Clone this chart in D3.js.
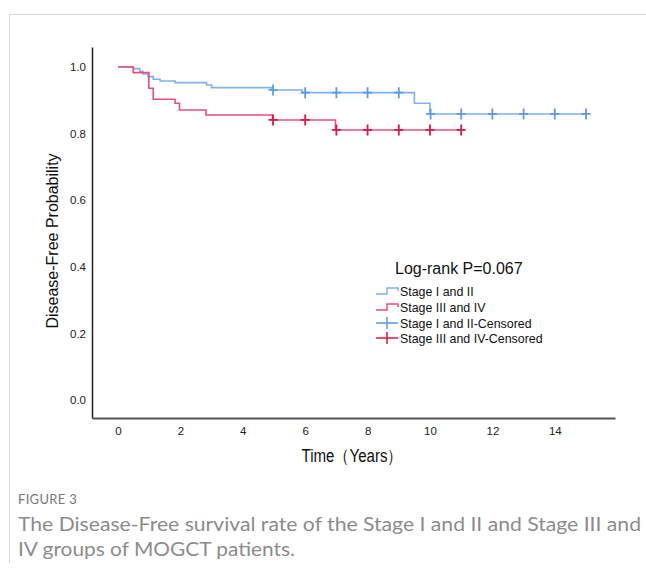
<!DOCTYPE html>
<html><head><meta charset="utf-8">
<script src="https://cdn.jsdelivr.net/npm/d3@7"></script>
<style>body{margin:0;background:#fff}svg{display:block}</style>
</head><body>
<script>
// Kaplan-Meier step data (time in years, survival probability)
const blueTimes = [0, 0.49, 0.70, 0.80, 0.96, 1.13, 1.35, 1.83, 2.84, 3.0, 4.93, 5.9, 9.5, 10.0, 15.0];
const blueProbs = [1.0, 0.995, 0.987, 0.979, 0.971, 0.963, 0.958, 0.953, 0.946, 0.938, 0.931, 0.923, 0.891, 0.859, 0.859];
const blueCensorTimes = [4.97, 6, 7, 8, 9, 10.02, 11, 12, 13, 14, 15];
const blueCensorProbs = [0.931, 0.923, 0.923, 0.923, 0.923, 0.859, 0.859, 0.859, 0.859, 0.859, 0.859];

const redTimes = [0, 0.49, 0.99, 1.13, 1.83, 1.97, 2.82, 4.95, 6.97, 11.0];
const redProbs = [1.0, 0.983, 0.936, 0.903, 0.891, 0.871, 0.856, 0.841, 0.811, 0.811];
const redCensorTimes = [4.97, 6, 7, 8, 9, 10, 11];
const redCensorProbs = [0.841, 0.841, 0.811, 0.811, 0.811, 0.811, 0.811];

const xTicks = [0, 2, 4, 6, 8, 10, 12, 14];
const yTicks = [0.0, 0.2, 0.4, 0.6, 0.8, 1.0];
const legendLabels = ["Stage I and II", "Stage III and IV", "Stage I and II-Censored", "Stage III and IV-Censored"];

const W = 646, H = 569;
const svg = d3.select("body").append("svg").attr("width", W).attr("height", H);

// frame
svg.append("path").attr("d", "M9.5,563 V14.5 H646").attr("fill", "none").attr("stroke", "#d9d9d9").attr("stroke-width", 1);

const x = d3.scaleLinear().domain([-0.833, 15.93]).range([92, 615]);
const y = d3.scaleLinear().domain([-0.054, 1.06]).range([418, 47]);

const blueLine = "#7fb2ee", blueMark = "#5c9be3";
const redLine = "#e6507a", redMark = "#d81744";
const font = "'Liberation Sans', Arial, sans-serif";

// axes
const yAxis = svg.append("g").attr("transform", "translate(92,0)")
  .call(d3.axisLeft(y).tickValues(yTicks).tickFormat(d3.format(".1f")).tickSize(0).tickPadding(6));
yAxis.attr("font-family", font).attr("font-size", 11.5);
yAxis.select(".domain").attr("stroke", "#222").attr("stroke-width", 1.5);
yAxis.selectAll("text").attr("fill", "#222");

const xAxis = svg.append("g").attr("transform", "translate(0,418)")
  .call(d3.axisBottom(x).tickValues(xTicks).tickFormat(d3.format("d")).tickSize(0).tickPadding(9));
xAxis.attr("font-family", font).attr("font-size", 11.5);
xAxis.select(".domain").attr("stroke", "#555").attr("stroke-width", 2);
xAxis.selectAll("text").attr("fill", "#222");

// axis titles
svg.append("text").attr("transform", "translate(58,241) rotate(-90)").attr("text-anchor", "middle")
  .attr("font-family", font).attr("font-size", 16).attr("fill", "#111").text("Disease-Free Probability");
svg.append("text").attr("x", 352).attr("y", 462).attr("text-anchor", "middle")
  .attr("font-family", font).attr("font-size", 18).attr("fill", "#111")
  .attr("textLength", 101).attr("lengthAdjust", "spacingAndGlyphs").text("Time（Years）");

// curves
const line = d3.line().x(d => x(d[0])).y(d => y(d[1])).curve(d3.curveStepAfter);
const blueData = blueTimes.map((t, i) => [t, blueProbs[i]]);
const redData = redTimes.map((t, i) => [t, redProbs[i]]);
svg.append("path").attr("d", line(blueData)).attr("fill", "none").attr("stroke", blueLine).attr("stroke-width", 1.6);
svg.append("path").attr("d", line(redData)).attr("fill", "none").attr("stroke", redLine).attr("stroke-width", 1.6);

function crosses(ts, ps, color) {
  ts.forEach((t, i) => {
    const cx = x(t), cy = y(ps[i]);
    svg.append("path").attr("d", `M${cx-4.5},${cy} H${cx+4.5} M${cx},${cy-5.5} V${cy+5.5}`)
      .attr("stroke", color).attr("stroke-width", 1.8).attr("fill", "none");
  });
}
crosses(blueCensorTimes, blueCensorProbs, blueMark);
crosses(redCensorTimes, redCensorProbs, redMark);

// legend
svg.append("text").attr("x", 395).attr("y", 274).attr("font-family", font).attr("font-size", 16).attr("fill", "#111").text("Log-rank P=0.067");
const lx = 376, ly = [291, 307, 323, 338];
const legColors = [blueLine, redLine, blueMark, redMark];
legendLabels.forEach((lab, i) => {
  const yy = ly[i];
  if (i < 2) {
    svg.append("path").attr("d", `M${lx},${yy+3} H${lx+11} V${yy-3} H${lx+22} V${yy}`)
      .attr("fill", "none").attr("stroke", legColors[i]).attr("stroke-width", 1.5);
  } else {
    svg.append("path").attr("d", `M${lx},${yy} H${lx+22} M${lx+11},${yy-6} V${yy+6}`)
      .attr("fill", "none").attr("stroke", legColors[i]).attr("stroke-width", 1.5);
  }
  svg.append("text").attr("x", 400).attr("y", yy + 4.5).attr("font-family", font).attr("font-size", 12.4)
    .attr("fill", "#111").text(lab);
});

// caption
const capFont = "Lato, 'Open Sans', sans-serif";
svg.append("text").attr("x", 18).attr("y", 504).attr("font-family", capFont).attr("font-size", 13)
  .attr("fill", "#777").attr("letter-spacing", 0.3).text("FIGURE 3");
svg.append("text").attr("x", 18).attr("y", 531).attr("font-family", capFont).attr("font-size", 19.5)
  .attr("fill", "#8c8c8c").attr("textLength", 623).attr("lengthAdjust", "spacingAndGlyphs")
  .text("The Disease-Free survival rate of the Stage I and II and Stage III and");
svg.append("text").attr("x", 18).attr("y", 556).attr("font-family", capFont).attr("font-size", 19.5)
  .attr("fill", "#8c8c8c").attr("textLength", 277).attr("lengthAdjust", "spacingAndGlyphs")
  .text("IV groups of MOGCT patients.");
</script>
</body></html>
